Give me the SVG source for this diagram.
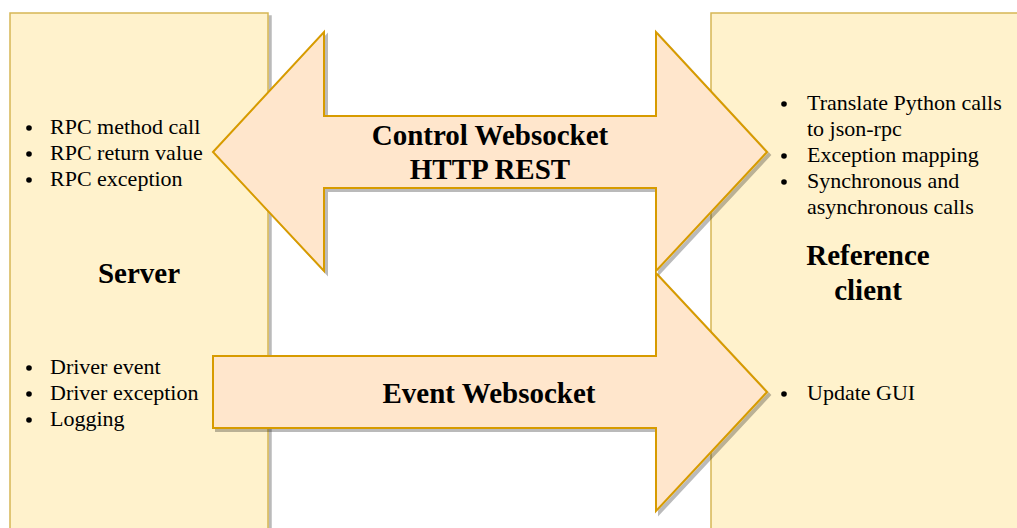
<svg xmlns="http://www.w3.org/2000/svg" width="1017" height="528" viewBox="0 0 1017 528">
  <defs>
    <!-- soft drop shadow, offset down-right -->
    <filter id="shadow" x="-10%" y="-10%" width="130%" height="130%">
      <feOffset in="SourceAlpha" dx="3" dy="3" result="off"/>
      <feGaussianBlur in="off" stdDeviation="0.4" result="blur"/>
      <feFlood flood-color="#000" flood-opacity="0.27"/>
      <feComposite in2="blur" operator="in" result="sh"/>
      <feMerge>
        <feMergeNode in="sh"/>
        <feMergeNode in="SourceGraphic"/>
      </feMerge>
    </filter>
  </defs>
  <style>
    .box { fill: #fff2cc; stroke: #d6b656; stroke-width: 1.5; filter: url(#shadow); }
    .arrow { fill: #ffe6cc; stroke: #d79b00; stroke-width: 2; stroke-linejoin: miter; filter: url(#shadow); }
    .item { font-family: "Liberation Serif", "Times New Roman", serif; font-size: 22px; fill: #000; }
    .title { font-family: "Liberation Serif", "Times New Roman", serif; font-size: 29px; font-weight: bold; fill: #000; text-anchor: middle; }
    .dot { fill: #000; }
  </style>

  <rect width="1017" height="528" fill="#ffffff"/>

  <!-- Server column -->
  <g id="server">
    <rect class="box" x="10" y="13" width="258" height="530"/>
    <circle class="dot" cx="29" cy="128" r="2.8"/>
    <circle class="dot" cx="29" cy="154" r="2.8"/>
    <circle class="dot" cx="29" cy="180" r="2.8"/>
    <text class="item" x="50" y="134">RPC method call</text>
    <text class="item" x="50" y="160">RPC return value</text>
    <text class="item" x="50" y="186">RPC exception</text>
    <text class="title" x="139" y="283">Server</text>
    <circle class="dot" cx="29" cy="368" r="2.8"/>
    <circle class="dot" cx="29" cy="394" r="2.8"/>
    <circle class="dot" cx="29" cy="420" r="2.8"/>
    <text class="item" x="50" y="374">Driver event</text>
    <text class="item" x="50" y="400">Driver exception</text>
    <text class="item" x="50" y="426">Logging</text>
  </g>

  <!-- Reference client column -->
  <g id="client">
    <rect class="box" x="711" y="13" width="330" height="530"/>
    <circle class="dot" cx="784" cy="104" r="2.8"/>
    <circle class="dot" cx="784" cy="156" r="2.8"/>
    <circle class="dot" cx="784" cy="182" r="2.8"/>
    <text class="item" x="807" y="110">Translate Python calls</text>
    <text class="item" x="807" y="136">to json-rpc</text>
    <text class="item" x="807" y="162">Exception mapping</text>
    <text class="item" x="807" y="188">Synchronous and</text>
    <text class="item" x="807" y="214">asynchronous calls</text>
    <text class="title" x="868" y="265">Reference</text>
    <text class="title" x="868" y="300">client</text>
    <circle class="dot" cx="784" cy="394" r="2.8"/>
    <text class="item" x="807" y="400">Update GUI</text>
  </g>

  <g id="connectors">
    <!-- two-way channel -->
    <g id="control">
      <polygon class="arrow" points="213,152 324,32 324,116 656,116 656,32 767,152 656,271 656,188 324,188 324,271"/>
      <text class="title" x="490" y="145">Control Websocket</text>
      <text class="title" x="490" y="179">HTTP REST</text>
    </g>
    <!-- one-way event channel -->
    <g id="event">
      <polygon class="arrow" points="213,356 656,356 656,273 767,392 656,511 656,428 213,428"/>
      <text class="title" x="489" y="403">Event Websocket</text>
    </g>
  </g>
</svg>
